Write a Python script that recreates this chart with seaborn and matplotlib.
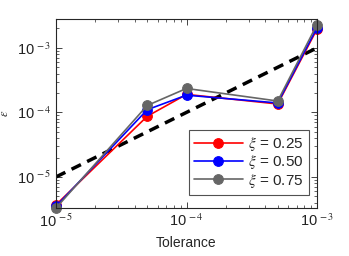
import matplotlib
matplotlib.use("Agg")
import math
import matplotlib.pyplot as plt
import seaborn as sns
import pandas as pd
from matplotlib.ticker import LogLocator, FuncFormatter, NullFormatter

tolerance = [1e-5, 5e-5, 1e-4, 5e-4, 1e-3]
err_025 = [3.7e-6, 8.7e-5, 1.9e-4, 1.35e-4, 1.95e-3]
err_050 = [3.5e-6, 1.1e-4, 1.85e-4, 1.4e-4, 2.05e-3]
err_075 = [3.3e-6, 1.28e-4, 2.35e-4, 1.5e-4, 2.3e-3]
ref_x = [1e-5, 1e-3]
ref_y = [1e-5, 1e-3]
labels = [r"$\xi$ = 0.25", r"$\xi$ = 0.50", r"$\xi$ = 0.75"]
colors = ["#ff0000", "#0000ff", "#666666"]

sns.set_theme(style="white")
plt.rcParams['font.family'] = ['Liberation Sans', 'DejaVu Sans']
plt.rcParams['mathtext.fontset'] = 'stix'

df = pd.DataFrame({
    "tol": tolerance * 3,
    "err": err_025 + err_050 + err_075,
    "series": [labels[0]] * 5 + [labels[1]] * 5 + [labels[2]] * 5,
})
ref_df = pd.DataFrame({"x": ref_x, "y": ref_y})

fig = plt.figure(figsize=(3.49, 2.56), dpi=100)
ax = fig.add_axes([56/349, 1-208/256, (317-56)/349, (208-19)/256])

sns.lineplot(data=ref_df, x="x", y="y", ax=ax, color="black",
             linestyle=(0, (3, 2)), linewidth=2.5, legend=False)
for lab, col in zip(labels, colors):
    sub = df[df.series == lab]
    sns.lineplot(data=sub, x="tol", y="err", ax=ax, color=col, marker="o",
                 markersize=7, markeredgecolor=col, linewidth=1.2, label=lab,
                 clip_on=False)

ax.set_xscale("log")
ax.set_yscale("log")
ax.set_xlim(1e-5, 1e-3)
ax.set_ylim(3.3e-6, 2.8e-3)

def fmt(v, pos):
    e = int(round(math.log10(v)))
    return r"10$^{\,%d}$" % e
ax.xaxis.set_major_locator(LogLocator(base=10, numticks=10))
ax.yaxis.set_major_locator(LogLocator(base=10, numticks=10))
ax.xaxis.set_major_formatter(FuncFormatter(fmt))
ax.yaxis.set_major_formatter(FuncFormatter(fmt))
ax.xaxis.set_minor_locator(LogLocator(base=10, subs=range(2, 10), numticks=20))
ax.yaxis.set_minor_locator(LogLocator(base=10, subs=range(2, 10), numticks=20))
ax.xaxis.set_minor_formatter(NullFormatter())
ax.yaxis.set_minor_formatter(NullFormatter())

ax.tick_params(which="both", direction="in", top=True, right=True, bottom=True,
               left=True, colors="#262626", labelsize=10.5, labelcolor="#222222")
ax.tick_params(which="major", length=4, width=0.6)
ax.tick_params(which="minor", length=2, width=0.5)
for s in ax.spines.values():
    s.set_color("#262626")
    s.set_linewidth(0.8)

ax.set_xlabel("Tolerance", fontsize=10, labelpad=4)
ax.set_ylabel(r"$\epsilon$", fontsize=9, labelpad=4)

leg = ax.legend(loc="lower right", bbox_to_anchor=(0.969, 0.069), borderaxespad=0,
                frameon=True, fontsize=11, handlelength=3.2, borderpad=0.35,
                labelspacing=0.02, handletextpad=0.35, fancybox=False,
                edgecolor="#262626")
leg.get_frame().set_linewidth(0.8)

fig.savefig("out.png", dpi=100)
